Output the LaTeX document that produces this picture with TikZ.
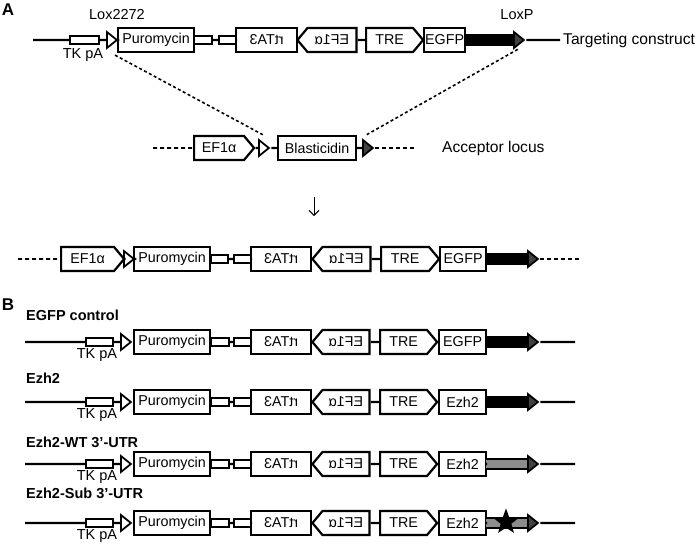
\documentclass[tikz,border=0pt]{standalone}
\usepackage{fontspec}
\setmainfont{Liberation Sans}
\usepackage{graphicx}
\usetikzlibrary{shapes.geometric, shapes.symbols, arrows.meta}

\newcommand{\BoxFont}{\fontsize{14.3}{15}\selectfont}
\newcommand{\LabelFont}{\fontsize{14.5}{15}\selectfont}
\newcommand{\Mirror}[1]{\scalebox{-1}[1]{#1}}

\tikzset{
  backbone/.style = {line width=2.2pt},
  flank/.style = {line width=1.6pt, dash pattern=on 4pt off 3pt},
  crossover/.style = {line width=1.6pt, dash pattern=on 3pt off 2.5pt},
  genebox/.style = {draw, line width=2.2pt, fill=white, inner sep=0pt, minimum height=24pt, font=\BoxFont, anchor=west},
  promfwd/.style = {genebox, signal, signal to=east, signal pointer angle=100},
  promrev/.style = {genebox, signal, signal to=west, signal pointer angle=100},
  linker/.style = {draw, line width=2pt, fill=white, inner sep=0pt, minimum height=8pt, anchor=west},
  utrbar/.style = {draw, line width=1.4pt, inner sep=0pt, minimum height=10pt, anchor=west},
  loxsite/.style = {isosceles triangle, isosceles triangle stretches, draw, line width=1.8pt, inner sep=0pt, minimum width=16pt, minimum height=10pt, anchor=west},
  lox2272/.style = {loxsite, fill=white},
  loxp/.style = {loxsite, fill=black!75},
  tag/.style = {font=\LabelFont, inner sep=0pt},
  rowname/.style = {font=\LabelFont\bfseries, inner sep=0pt, anchor=west},
  panel/.style = {font=\fontsize{17}{17}\selectfont\bfseries, inner sep=0pt},
}

\begin{document}
\begin{tikzpicture}[x=1pt, y=-1pt]
    \useasboundingbox (0, 0) rectangle (700, 547);

    % panel A
    \node[panel] (panelA) at (8, 10) {A};

    % draw targeting construct
    \coordinate (tcStart) at (33, 40);
    \coordinate (tcEnd) at (560, 40);
    \node[linker, minimum width=29pt] (tcTK) at (69, 40) {};
    \node[lox2272] (tcLoxA) at (106, 40) {};
    \node[genebox, minimum width=76pt] (tcPuro) at (117, 40) {Puromycin};
    \node[linker, minimum width=18pt] (tcLinkA) at (193, 40) {};
    \node[linker, minimum width=17pt] (tcLinkB) at (218, 40) {};
    \node[genebox, minimum width=61pt] (tcRtta) at (235, 40) {\Mirror{rtTA3}};
    \node[promrev, minimum width=59pt] (tcEf) at (296, 40) {\Mirror{EF1α}};
    \node[promfwd, minimum width=57pt] (tcTre) at (365, 40) {TRE};
    \node[genebox, minimum width=41pt] (tcEgfp) at (423, 40) {EGFP};
    \node[utrbar, fill=black, minimum width=49pt] (tcUtr) at (464, 40) {};
    \node[loxp] (tcLoxP) at (513, 40) {};
    \draw[backbone] (tcStart) -- (tcTK) -- (tcLoxA) -- (tcPuro) -- (tcLinkA) -- (tcLinkB) -- (tcRtta)
        -- (tcEf) -- (tcTre) -- (tcEgfp) -- (tcUtr) -- (tcLoxP) -- (tcEnd);

    \node[tag] (tcTKlabel) at (83, 55) {TK pA};
    \node[tag] (tcLoxAlabel) at (117, 15) {Lox2272};
    \node[tag] (tcLoxPlabel) at (517, 15) {LoxP};
    \node[tag, anchor=west, font=\fontsize{15.6}{16}\selectfont] (tcName) at (563, 40) {Targeting construct};


    % draw acceptor locus
    \coordinate (acStart) at (153, 148);
    \coordinate (acEnd) at (417, 148);
    \node[promfwd, minimum width=60pt] (acEf) at (193, 148) {EF1α};
    \node[lox2272] (acLoxA) at (258, 148) {};
    \node[genebox, minimum width=78pt] (acBlast) at (277, 148) {Blasticidin};
    \node[loxp] (acLoxP) at (362, 148) {};
    \draw[flank] (acStart) -- (acEf);
    \draw[backbone] (acEf) -- (acLoxA) -- (acBlast) -- (acLoxP);
    \draw[flank] (acLoxP) -- (acEnd);
    \node[tag, anchor=west, font=\fontsize{15.6}{16}\selectfont] (acName) at (442, 148) {Acceptor locus};

    % crossover lines
    \draw[crossover] ([shift={(-2pt, -2pt)}]tcPuro.south west) -- ([yshift=7pt]acLoxA.north);
    \draw[crossover] ([yshift=-3pt]tcLoxP.south) -- ([yshift=7pt]acLoxP.north);

    % recombination step
    \coordinate (stepTop) at (314, 197);
    \coordinate (stepBottom) at (314, 216);
    \draw[line width=1pt, -{Straight Barb[length=5pt, width=10pt]}] (stepTop) -- (stepBottom);


    % draw recombined locus
    \coordinate (rcStart) at (18, 259);
    \coordinate (rcEnd) at (580, 259);
    \node[promfwd, minimum width=63pt] (rcEf) at (60, 259) {EF1α};
    \node[lox2272] (rcLoxA) at (123, 259) {};
    \node[genebox, minimum width=76pt] (rcPuro) at (133, 259) {Puromycin};
    \node[linker, minimum width=17pt] (rcLinkA) at (210, 259) {};
    \node[linker, minimum width=17pt] (rcLinkB) at (233, 259) {};
    \node[genebox, minimum width=60pt] (rcRtta) at (250, 259) {\Mirror{rtTA3}};
    \node[promrev, minimum width=58pt] (rcEfRev) at (311, 259) {\Mirror{EF1α}};
    \node[promfwd, minimum width=58pt] (rcTre) at (380, 259) {TRE};
    \node[genebox, minimum width=46pt] (rcEgfp) at (439, 259) {EGFP};
    \node[utrbar, fill=black, minimum width=42pt] (rcUtr) at (485, 259) {};
    \node[loxp] (rcLoxP) at (527, 259) {};
    \draw[flank] (rcStart) -- (rcEf);
    \draw[backbone] (rcEf) -- (rcLoxA) -- (rcPuro) -- (rcLinkA) -- (rcLinkB) -- (rcRtta)
        -- (rcEfRev) -- (rcTre) -- (rcEgfp) -- (rcUtr) -- (rcLoxP);
    \draw[flank] (rcLoxP) -- (rcEnd);


    % panel B
    \node[panel] (panelB) at (8, 305) {B};

    % draw the four constructs
    \foreach \i/\y/\ly/\gene/\utrfill/\name in {
        1/342/315/EGFP/black/EGFP control,
        2/402/378/Ezh2/black/Ezh2,
        3/464/442/Ezh2/black!45/Ezh2-WT 3’-UTR,
        4/523/493/Ezh2/black!45/Ezh2-Sub 3’-UTR}{
        \coordinate (bStart\i) at (25, \y);
        \coordinate (bEnd\i) at (575, \y);
        \node[linker, minimum width=27pt] (bTK\i) at (85, \y) {};
        \node[lox2272] (bLoxA\i) at (120, \y) {};
        \node[genebox, minimum width=76pt] (bPuro\i) at (133, \y) {Puromycin};
        \node[linker, minimum width=18pt] (bLinkA\i) at (210, \y) {};
        \node[linker, minimum width=17pt] (bLinkB\i) at (233, \y) {};
        \node[genebox, minimum width=60pt] (bRtta\i) at (250, \y) {\Mirror{rtTA3}};
        \node[promrev, minimum width=57pt] (bEf\i) at (311, \y) {\Mirror{EF1α}};
        \node[promfwd, minimum width=57pt] (bTre\i) at (379, \y) {TRE};
        \node[genebox, minimum width=47pt] (bGene\i) at (438, \y) {\gene};
        \node[utrbar, fill=\utrfill, minimum width=42pt] (bUtr\i) at (485, \y) {};
        \node[loxp] (bLoxP\i) at (527, \y) {};
        \draw[backbone] (bStart\i) -- (bTK\i) -- (bLoxA\i) -- (bPuro\i) -- (bLinkA\i) -- (bLinkB\i) -- (bRtta\i)
            -- (bEf\i) -- (bTre\i) -- (bGene\i) -- (bUtr\i) -- (bLoxP\i) -- (bEnd\i);
        \node[tag] (bTKlabel\i) at (97, \y + 13) {TK pA};
        \node[rowname] (bName\i) at (26, \ly) {\name};
    }

    % mutated site
    \node[star, star points=5, star point ratio=2.4, fill=black, inner sep=0pt, minimum size=27pt] (subStar) at (506, 522) {};

\end{tikzpicture}
\end{document}
